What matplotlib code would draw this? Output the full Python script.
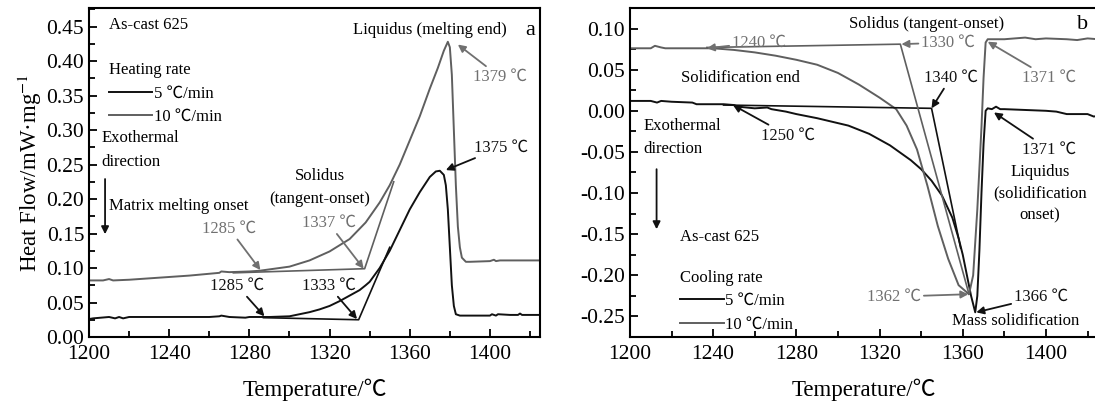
import matplotlib
matplotlib.use('Agg')
import matplotlib.pyplot as plt
import matplotlib.ticker as ticker

plt.rcParams['font.family'] = ['Liberation Serif', 'Noto Sans CJK SC', 'DejaVu Sans']
plt.rcParams['mathtext.fontset'] = 'stix'

# ---- (a) heating ----
T_h5 = [1200, 1202, 1210, 1213, 1215, 1217, 1220, 1230, 1240, 1250, 1260, 1265, 1266, 1270, 1278, 1280,
        1290, 1300, 1305, 1310, 1315, 1320, 1325, 1330, 1335, 1338, 1340, 1345, 1350, 1355, 1360, 1365,
        1370, 1373, 1375, 1377, 1378, 1379, 1380, 1381, 1382, 1383, 1385, 1390, 1400, 1401, 1403, 1404,
        1410, 1414, 1415, 1416, 1425]
HF_h5 = [0.026, 0.027, 0.029, 0.027, 0.029, 0.027, 0.029, 0.029, 0.029, 0.029, 0.029, 0.030, 0.031, 0.029, 0.028, 0.029,
         0.029, 0.030, 0.033, 0.036, 0.040, 0.045, 0.052, 0.060, 0.068, 0.075, 0.080, 0.100, 0.125, 0.155, 0.185, 0.210,
         0.232, 0.240, 0.241, 0.235, 0.220, 0.185, 0.130, 0.075, 0.045, 0.033, 0.031, 0.031, 0.031, 0.033, 0.031, 0.033,
         0.032, 0.032, 0.034, 0.032, 0.032]
T_h10 = [1200, 1207, 1210, 1212, 1220, 1235, 1250, 1265, 1266, 1270, 1280, 1285, 1290, 1300, 1310, 1320,
         1330, 1338, 1345, 1350, 1355, 1360, 1365, 1370, 1374, 1377, 1379, 1380, 1381, 1382, 1383, 1384,
         1385, 1386, 1388, 1390, 1400, 1402, 1403, 1405, 1425]
HF_h10 = [0.082, 0.082, 0.084, 0.082, 0.083, 0.086, 0.089, 0.093, 0.095, 0.094, 0.095, 0.096, 0.098, 0.102, 0.111, 0.124,
          0.142, 0.166, 0.195, 0.220, 0.250, 0.285, 0.320, 0.360, 0.390, 0.415, 0.428, 0.420, 0.380, 0.300, 0.220, 0.160,
          0.130, 0.115, 0.109, 0.109, 0.110, 0.112, 0.110, 0.111, 0.111]
tan_h5_T = [1287, 1334.5, 1350]
tan_h5_HF = [0.028, 0.025, 0.130]
tan_h10_T = [1272, 1337.5, 1352]
tan_h10_HF = [0.093, 0.099, 0.225]

# ---- (b) cooling ----
T_c5 = [1200, 1210, 1213, 1215, 1220, 1230, 1232, 1245, 1250, 1252, 1260, 1266, 1268, 1275, 1280, 1290,
        1300, 1305, 1310, 1315, 1320, 1325, 1330, 1335, 1340, 1345, 1350, 1355, 1358, 1360, 1362, 1364,
        1366, 1367, 1368, 1369, 1370, 1371, 1372, 1374, 1376, 1378, 1380, 1390, 1400, 1405, 1410, 1415,
        1420, 1423, 1425]
HF_c5 = [0.012, 0.012, 0.010, 0.012, 0.011, 0.010, 0.008, 0.008, 0.007, 0.005, 0.003, 0.004, 0.002, -0.001, -0.004, -0.009,
         -0.015, -0.018, -0.023, -0.028, -0.035, -0.042, -0.051, -0.060, -0.071, -0.085, -0.103, -0.130, -0.155, -0.175, -0.200, -0.225,
         -0.245, -0.225, -0.170, -0.100, -0.040, 0.000, 0.003, 0.002, 0.005, 0.002, 0.002, 0.001, 0.000, -0.001, -0.004, -0.004,
         -0.004, -0.007, -0.006]
T_c10 = [1200, 1210, 1212, 1215, 1217, 1240, 1250, 1260, 1270, 1280, 1290, 1300, 1310, 1320, 1328, 1333,
         1338, 1343, 1348, 1353, 1358, 1363, 1365, 1367, 1369, 1370, 1371, 1372, 1380, 1390, 1395, 1400,
         1410, 1415, 1420, 1425]
HF_c10 = [0.076, 0.076, 0.079, 0.077, 0.076, 0.076, 0.074, 0.071, 0.067, 0.062, 0.056, 0.046, 0.032, 0.016, 0.002, -0.018,
          -0.047, -0.091, -0.140, -0.180, -0.212, -0.223, -0.200, -0.120, -0.020, 0.040, 0.083, 0.087, 0.087, 0.089, 0.087, 0.088,
          0.087, 0.086, 0.088, 0.087]
tan_c5_T = [1245, 1345, 1359]
tan_c5_HF = [0.007, 0.003, -0.167]
tan_c10_T = [1237, 1330, 1363]
tan_c10_HF = [0.077, 0.081, -0.223]

BLACK = '#111111'
GRAY = '#5f5f5f'
GTXT = '#707070'
FS = 12


def arrow(ax, txt, xy, xytext, color, ha='center'):
    ax.annotate(txt, xy=xy, xytext=xytext, color=color, fontsize=FS, ha=ha, va='center',
                arrowprops=dict(arrowstyle='-|>', color=color, lw=1.3, mutation_scale=11,
                                shrinkA=0, shrinkB=0))


def style_axes(ax, ylim, yticks):
    ax.set_xlim(1200, 1425)
    ax.set_ylim(*ylim)
    ax.xaxis.set_major_locator(ticker.MultipleLocator(40))
    ax.xaxis.set_minor_locator(ticker.MultipleLocator(20))
    ax.set_yticks(yticks)
    ax.yaxis.set_minor_locator(ticker.MultipleLocator(0.025))
    ax.yaxis.set_major_formatter(ticker.FormatStrFormatter('%.2f'))
    ax.tick_params(which='both', direction='in', top=False, right=False, width=1.3, labelsize=15.5)
    ax.tick_params(which='major', length=6)
    ax.tick_params(which='minor', length=4)
    ax.tick_params(axis='x', which='major', pad=6)
    for s in ax.spines.values():
        s.set_linewidth(1.5)
    ax.set_xlabel('Temperature/℃', fontsize=16.5, labelpad=10)


fig = plt.figure(figsize=(10.95, 4.03), dpi=100)

# ------------------- panel a -------------------
ax1 = fig.add_axes([0.0813, 0.1638, 0.4119, 0.8164])
l5, = ax1.plot(T_h5, HF_h5, color=BLACK, lw=1.4)
l10, = ax1.plot(T_h10, HF_h10, color=GRAY, lw=1.4)
ax1.plot(tan_h5_T, tan_h5_HF, color=BLACK, lw=1.2)
ax1.plot(tan_h10_T, tan_h10_HF, color=GRAY, lw=1.2)
style_axes(ax1, (0, 0.477), [0.0, 0.05, 0.10, 0.15, 0.20, 0.25, 0.30, 0.35, 0.40, 0.45])
ax1.set_ylabel('Heat Flow/mW·mg$^{-1}$', fontsize=16.5, labelpad=2)

ax1.text(1210, 0.452, 'As-cast 625', fontsize=FS, va='center')
ax1.legend(handles=[l5, l10], labels=['5 ℃/min', '10 ℃/min'], title='Heating rate',
           loc='upper left', bbox_to_anchor=(0.044, 0.835), frameon=False, alignment='left',
           fontsize=FS, title_fontsize=FS, handlelength=2.6, handletextpad=0.1,
           borderpad=0, borderaxespad=0, labelspacing=0.45)
ax1.text(1206, 0.271, 'Exothermal\ndirection', fontsize=FS, va='center', linespacing=1.6)
ax1.annotate('', xy=(1208, 0.149), xytext=(1208, 0.229),
             arrowprops=dict(arrowstyle='-|>', color=BLACK, lw=1.3, mutation_scale=11, shrinkA=0, shrinkB=0))
ax1.text(1210, 0.19, 'Matrix melting onset', fontsize=FS, va='center')
ax1.text(1315, 0.217, 'Solidus\n(tangent-onset)', fontsize=FS, ha='center', va='center', linespacing=1.6)
ax1.text(1370, 0.445, 'Liquidus (melting end)', fontsize=FS, ha='center', va='center')
ax1.text(1420, 0.445, 'a', fontsize=16, ha='center', va='center')

arrow(ax1, '1285 ℃', (1285.5, 0.097), (1270, 0.157), GTXT)
arrow(ax1, '1337 ℃', (1337, 0.099), (1319.5, 0.165), GTXT)
arrow(ax1, '1285 ℃', (1287.5, 0.030), (1274, 0.074), BLACK)
arrow(ax1, '1333 ℃', (1333.7, 0.026), (1319.5, 0.074), BLACK)
arrow(ax1, '1375 ℃', (1378, 0.242), (1405.7, 0.275), BLACK)
arrow(ax1, '1379 ℃', (1384, 0.424), (1405, 0.377), GTXT)

# ------------------- panel b -------------------
ax2 = fig.add_axes([0.5753, 0.1638, 0.4274, 0.8164])
c5, = ax2.plot(T_c5, HF_c5, color=BLACK, lw=1.4)
c10, = ax2.plot(T_c10, HF_c10, color=GRAY, lw=1.4)
ax2.plot(tan_c5_T, tan_c5_HF, color=BLACK, lw=1.2)
ax2.plot(tan_c10_T, tan_c10_HF, color=GRAY, lw=1.2)
style_axes(ax2, (-0.275, 0.125), [-0.25, -0.20, -0.15, -0.10, -0.05, 0.0, 0.05, 0.10])
ax2.spines['right'].set_visible(False)

ax2.text(1342.4, 0.105, 'Solidus (tangent-onset)', fontsize=FS, ha='center', va='center')
ax2.text(1417.6, 0.105, 'b', fontsize=16, ha='center', va='center')
ax2.text(1253, 0.040, 'Solidification end', fontsize=FS, ha='center', va='center')
ax2.text(1206.4, -0.032, 'Exothermal\ndirection', fontsize=FS, va='center', linespacing=1.6)
ax2.annotate('', xy=(1212.8, -0.144), xytext=(1212.8, -0.071),
             arrowprops=dict(arrowstyle='-|>', color=BLACK, lw=1.3, mutation_scale=11, shrinkA=0, shrinkB=0))
ax2.text(1224, -0.154, 'As-cast 625', fontsize=FS, va='center')
ax2.legend(handles=[c5, c10], labels=['5 ℃/min', '10 ℃/min'], title='Cooling rate',
           loc='upper left', bbox_to_anchor=(0.1075, 0.205), frameon=False, alignment='left',
           fontsize=FS, title_fontsize=FS, handlelength=2.6, handletextpad=0.1,
           borderpad=0, borderaxespad=0, labelspacing=0.45)
ax2.text(1397, -0.101, 'Liquidus\n(solidification\nonset)', fontsize=FS, ha='center', va='center',
         linespacing=1.45)
ax2.text(1385.5, -0.255, 'Mass solidification', fontsize=FS, ha='center', va='center')

arrow(ax2, '1240 ℃', (1237, 0.076), (1249, 0.083), GTXT, ha='left')
arrow(ax2, '1330 ℃', (1330.5, 0.081), (1340, 0.083), GTXT, ha='left')
arrow(ax2, '1371 ℃', (1372, 0.084), (1401.5, 0.040), GTXT)
arrow(ax2, '1340 ℃', (1345, 0.003), (1354.2, 0.040), BLACK)
arrow(ax2, '1250 ℃', (1249.5, 0.007), (1263, -0.030), BLACK, ha='left')
arrow(ax2, '1371 ℃', (1375, -0.002), (1401.5, -0.047), BLACK)
arrow(ax2, '1362 ℃', (1362.7, -0.223), (1327, -0.226), GTXT)
arrow(ax2, '1366 ℃', (1366.5, -0.245), (1384.6, -0.226), BLACK, ha='left')

fig.savefig('out.png', dpi=100)
